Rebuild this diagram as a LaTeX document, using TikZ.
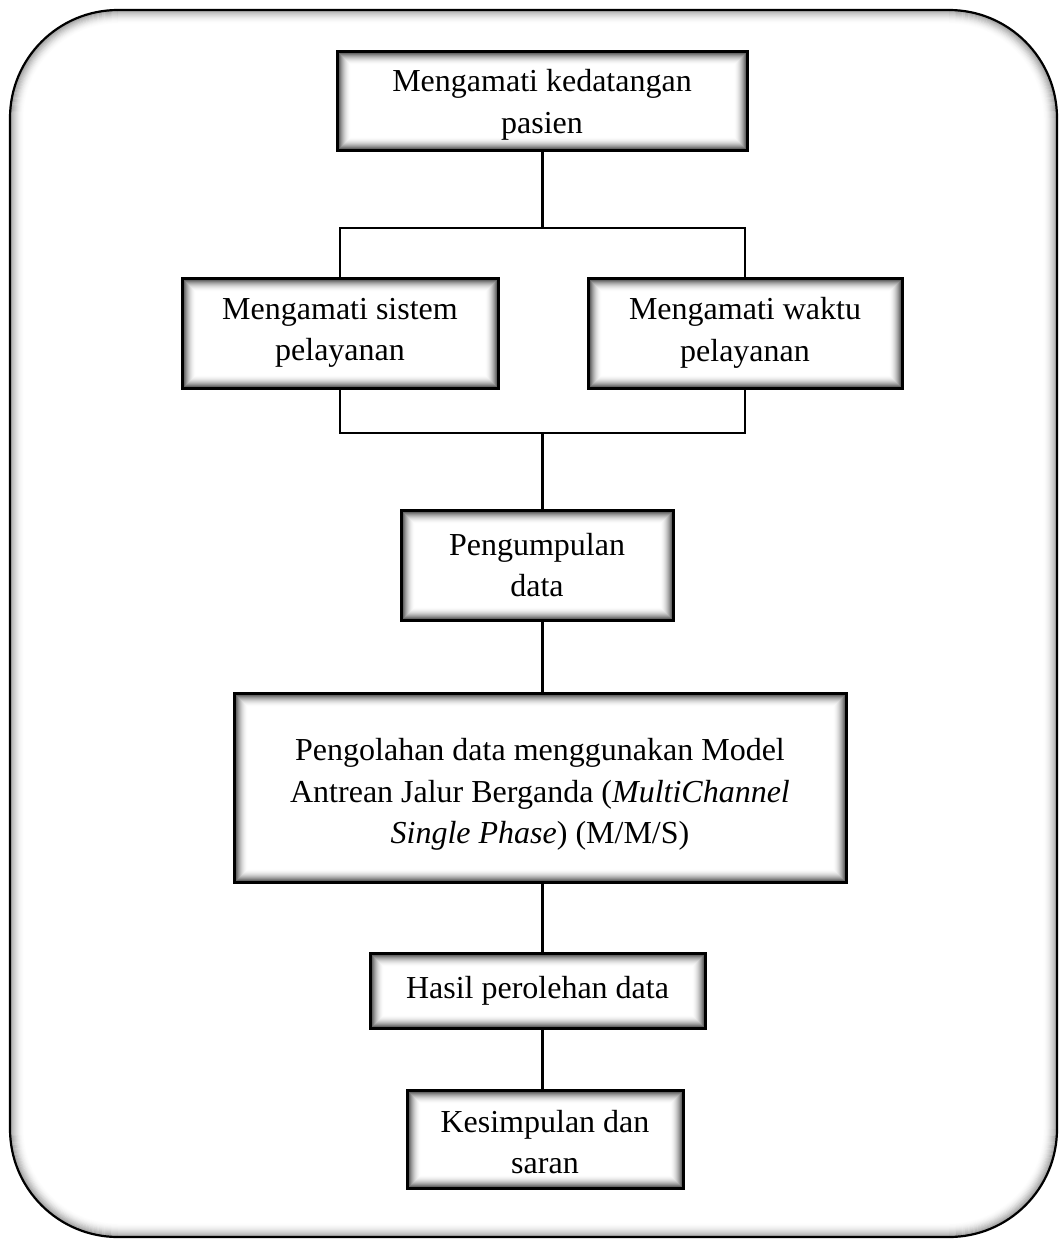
\documentclass[tikz,border=0pt]{standalone}
\usepackage{fontspec}
\setmainfont{Liberation Serif}
\newcommand{\innerglow}[1]{%
  \foreach \i in {2,...,13}{%
    \pgfmathsetmacro{\op}{0.6*(1-(\i-2)/12)^2}%
    \draw[black, opacity=\op, line width=1pt]
      ([shift={(\i pt,-\i pt)}]#1.north west) rectangle ([shift={(-\i pt,\i pt)}]#1.south east);
  }}
\newcommand{\lowstrut}[1]{\rule{0pt}{#1pt}}
\begin{document}
\begin{tikzpicture}[x=1pt,y=-1pt,
  box/.style={draw=black, line width=3pt, fill=white, outer sep=0pt, inner sep=0pt,
    align=center, font=\fontsize{32}{41.5}\selectfont},
  conn/.style={line width=3pt},
  branch/.style={line width=2pt}]
\useasboundingbox (0,0) rectangle (1059,1239);
% outer frame
\fill[white] (0,0) rectangle (1059,1239);
\foreach \i in {1,...,14}{%
  \pgfmathsetmacro{\op}{0.35*(1-(\i-1)/14)^2}%
  \pgfmathsetmacro{\rr}{108-\i}%
  \draw[black, opacity=\op, line width=1pt, rounded corners=\rr pt]
    (10+\i,10+\i) rectangle (1057-\i,1237-\i);
}
\draw[line width=2.2pt, rounded corners=108pt] (10,10) rectangle (1057,1237);

% boxes
\node[box, minimum width=410pt, minimum height=98pt] (b1) at (542,101) {\lowstrut{30}Mengamati kedatangan\\pasien};
\node[box, minimum width=316pt, minimum height=110pt] (b2) at (340,333) {Mengamati sistem\\pelayanan};
\node[box, minimum width=314pt, minimum height=110pt] (b3) at (745,333) {Mengamati waktu\\pelayanan};
\node[box, minimum width=272pt, minimum height=110pt] (b4) at (537,565) {Pengumpulan\\data};
\node[box, minimum width=612pt, minimum height=189pt] (b5) at (540,787.5) {\lowstrut{36}Pengolahan data menggunakan Model\\Antrean Jalur Berganda (\textit{MultiChannel}\\\textit{Single Phase}) (M/M/S)};
\node[box, minimum width=335pt, minimum height=75pt] (b6) at (537.5,990.5) {Hasil perolehan data};
\node[box, minimum width=276pt, minimum height=98pt] (b7) at (545,1139) {\lowstrut{28}Kesimpulan dan\\saran};
\foreach \n in {b1,b2,b3,b4,b5,b6,b7}{\innerglow{\n}}

% connectors
\coordinate (j1) at (542,228);
\coordinate (j2) at (542,433);
\draw[conn] (j1 |- b1.south) -- (j1);
\draw[branch] (b2.north) |- (j1) -| (b3.north);
\draw[branch] (b2.south) |- (j2) -| (b3.south);
\draw[conn] (j2) -- (j2 |- b4.north);
\draw[conn] (j2 |- b4.south) -- (j2 |- b5.north);
\draw[conn] (j2 |- b5.south) -- (j2 |- b6.north);
\draw[conn] (j2 |- b6.south) -- (j2 |- b7.north);
\end{tikzpicture}
\end{document}
